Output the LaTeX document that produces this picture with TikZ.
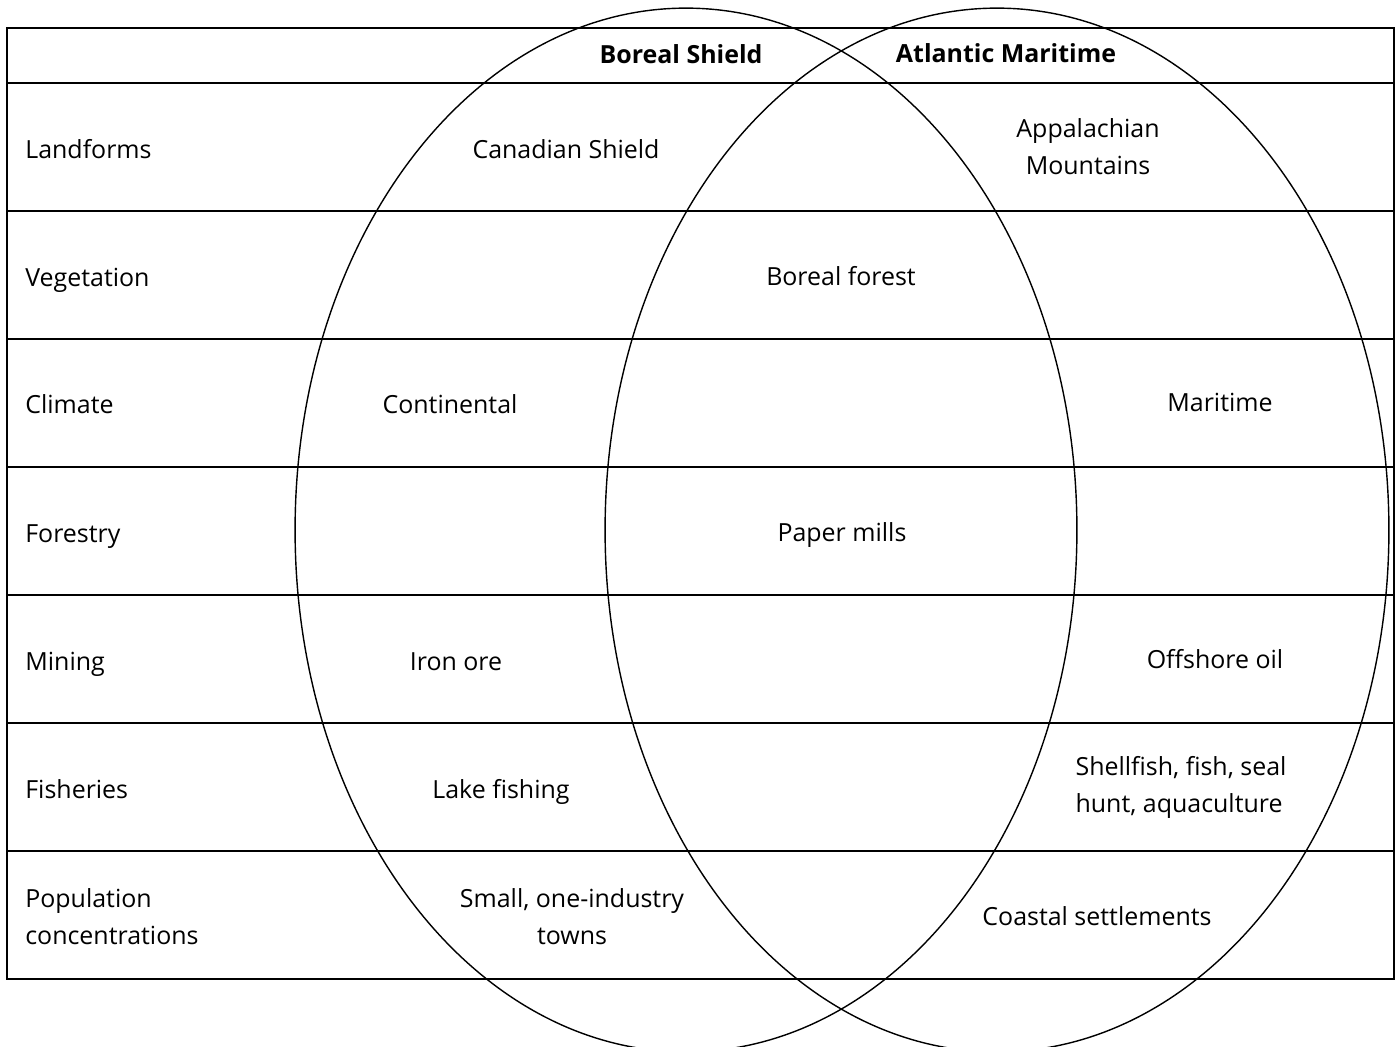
\documentclass[tikz,border=0pt]{standalone}
\usepackage{fontspec}
\setmainfont{Open Sans}
\usepackage{tikz}
\usetikzlibrary{positioning}
\newcommand{\cellfont}{\fontsize{14.2pt}{21pt}\selectfont}
\tikzset{
    cell/.style={
        inner sep=0pt,
        align=center,
        font=\cellfont
    },
    rowlabel/.style={
        inner sep=0pt,
        anchor=west,
        align=left,
        font=\cellfont
    },
    oneline/.style={
        text height=2.4ex,
        text depth=0.45ex
    },
    heading/.style={
        inner sep=0pt,
        oneline,
        font=\cellfont\bfseries
    },
    rule/.style={line width=1.1pt},
    region/.style={line width=0.8pt}
}

\begin{document}
\begin{tikzpicture}[x=0.02cm, y=-0.02cm]
    \clip (0,0) rectangle (1400,1046);
    \useasboundingbox (0,0) rectangle (1400,1046);

    % Table
    \draw[rule] (7,28) rectangle (1394,979);
    \foreach \y in {83,211,339,467,595,723,851}
        \draw[rule] (7,\y) -- (1394,\y);

    % Regions
    \draw[region] (686,530) ellipse [x radius=7.82cm, y radius=10.44cm];
    \draw[region] (997,530) ellipse [x radius=7.84cm, y radius=10.44cm];

    % Headings
    \node[heading] (boreal) at (681,54) {Boreal Shield};
    \node[heading] (atlantic) at (1006,53) {Atlantic Maritime};

    % Row labels
    \node[rowlabel, oneline] (landforms) at (25,149) {Landforms};
    \node[rowlabel, oneline] (vegetation) at (25,277) {Vegetation};
    \node[rowlabel, oneline] (climate) at (25,404) {Climate};
    \node[rowlabel, oneline] (forestry) at (25,533) {Forestry};
    \node[rowlabel, oneline] (mining) at (25,661) {Mining};
    \node[rowlabel, oneline] (fisheries) at (25,789) {Fisheries};
    \node[rowlabel] (population) at (25,917) {Population\\concentrations};

    % Entries
    \node[cell, oneline] (shield) at (566,149) {Canadian Shield};
    \node[cell] (appalachian) at (1088,147) {Appalachian\\Mountains};
    \node[cell, oneline] (forest) at (841,276) {Boreal forest};
    \node[cell, oneline] (continental) at (450,404) {Continental};
    \node[cell, oneline] (maritime) at (1220,402) {Maritime};
    \node[cell, oneline] (mills) at (842,532) {Paper mills};
    \node[cell, oneline] (iron) at (456,661) {Iron ore};
    \node[cell, oneline] (oil) at (1215,659) {Offshore oil};
    \node[cell, oneline] (lake) at (501,789) {Lake fishing};
    \node[cell, align=left] (shellfish) at (1181,787) {Shellfish, fish, seal\\hunt, aquaculture};
    \node[cell] (towns) at (572,917) {Small, one-industry\\towns};
    \node[cell, oneline] (coastal) at (1097,916) {Coastal settlements};
\end{tikzpicture}
\end{document}
